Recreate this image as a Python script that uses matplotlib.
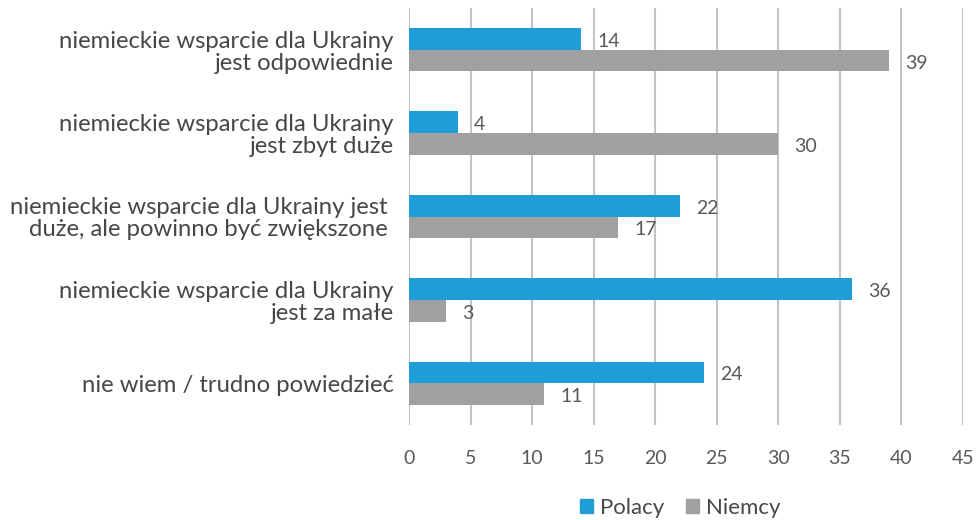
import matplotlib
matplotlib.use("Agg")
import matplotlib.pyplot as plt
import numpy as np
from matplotlib.patches import Patch

plt.rcParams['font.family'] = ['Lato', 'DejaVu Sans']

categories = [
    "niemieckie wsparcie dla Ukrainy\njest odpowiednie",
    "niemieckie wsparcie dla Ukrainy\njest zbyt duże",
    "niemieckie wsparcie dla Ukrainy jest \nduże, ale powinno być zwiększone ",
    "niemieckie wsparcie dla Ukrainy\njest za małe",
    "nie wiem / trudno powiedzieć",
]
polacy = [14, 4, 22, 36, 24]
niemcy = [39, 30, 17, 3, 11]
xticks = [0, 5, 10, 15, 20, 25, 30, 35, 40, 45]

blue = "#1f9dd9"
gray = "#a0a0a0"
txt = "#474747"
lbl = "#595959"

fig = plt.figure(figsize=(9.76, 5.2), dpi=100)
ax = fig.add_axes([409/976, 1-425/520, (963-409)/976, (425-8)/520])

y = np.arange(len(categories))
h = 0.26
ax.barh(y - h/2, polacy, height=h, color=blue, zorder=3)
ax.barh(y + h/2, niemcy, height=h, color=gray, zorder=3)

dy = 0.03
for yi, v in zip(y, polacy):
    ax.text(v + 1.3, yi - h/2 + dy, str(v), va='center', ha='left', fontsize=14, color=lbl)
for yi, v in zip(y, niemcy):
    ax.text(v + 1.3, yi + h/2 + dy, str(v), va='center', ha='left', fontsize=14, color=lbl)

ax.set_xlim(0, 45)
ax.set_ylim(len(categories) - 0.5, -0.5)
ax.set_xticks(xticks)
ax.set_xticklabels([str(t) for t in xticks], fontsize=14, color=lbl)
ax.set_yticks(y)
ax.set_yticklabels(categories, fontsize=17.2, color=txt, ha='right', multialignment='right',
                   linespacing=1.05)
ax.tick_params(axis='y', length=0, pad=11)
ax.tick_params(axis='x', length=0, pad=18)
ax.grid(axis='x', color='#c4c4c4', linewidth=1.5, zorder=0)
for s in ax.spines.values():
    s.set_visible(False)

handles = [Patch(color=blue, label='Polacy'), Patch(color=gray, label='Niemcy')]
fig.legend(handles=handles, loc='center', bbox_to_anchor=(680/976, 1-508/520), ncol=2,
           frameon=False, fontsize=16, handlelength=0.6, handleheight=0.6,
           handletextpad=0.3, columnspacing=1.0, labelcolor=txt)

fig.savefig("out.png", dpi=100)
